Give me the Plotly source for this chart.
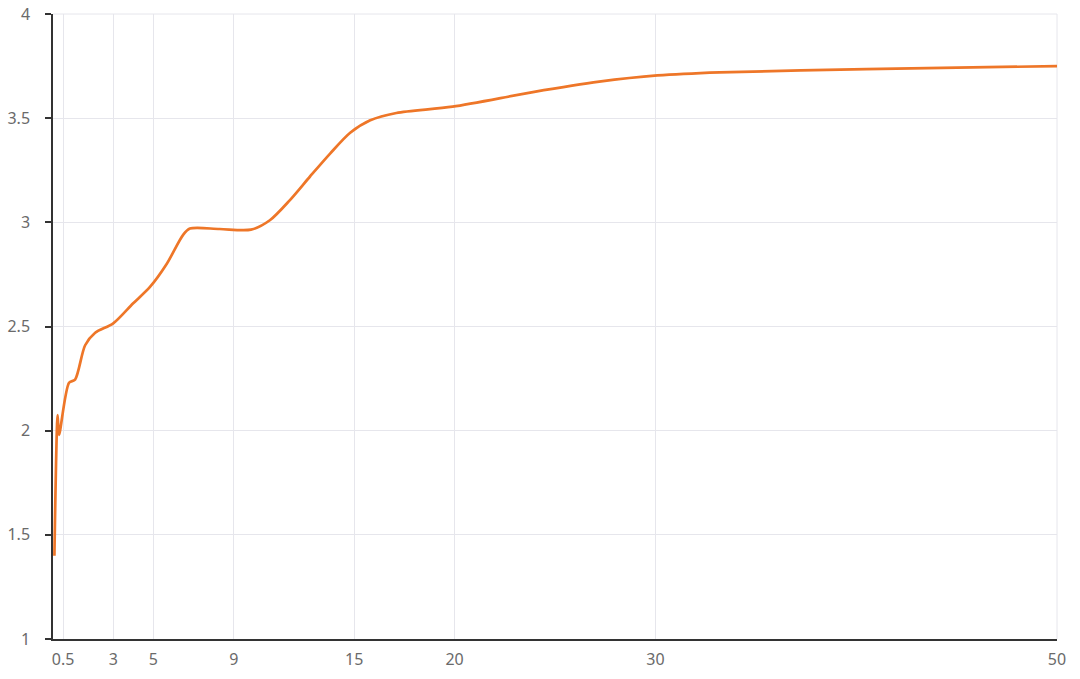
import plotly.graph_objects as go

x_vals = [0.07, 0.23, 0.3, 0.8, 1.1, 1.6, 2.1, 3.0, 3.98, 4.83, 5.66, 6.48, 6.82,
          8.3, 9.86, 10.8, 11.8, 12.8, 13.8, 14.8, 15.8, 17.1, 19.9, 23.9, 27.2, 30.1,
          33.2, 40.5, 50.0]
y_vals = [1.40, 2.075, 1.98, 2.23, 2.245, 2.41, 2.47, 2.515, 2.61, 2.69, 2.80, 2.94, 2.97,
          2.968, 2.965, 3.01, 3.107, 3.22, 3.33, 3.43, 3.49, 3.525, 3.555, 3.625, 3.675, 3.705,
          3.72, 3.735, 3.75]
x_ticks = [0.5, 3, 5, 9, 15, 20, 30, 50]
y_ticks = [1, 1.5, 2, 2.5, 3, 3.5, 4]

fig = go.Figure()
fig.add_trace(go.Scatter(
    x=x_vals, y=y_vals, mode="lines",
    line=dict(color="#ee7628", width=2.7, shape="spline", smoothing=0.8),
    hoverinfo="x+y", showlegend=False,
))

grid_col = "#e6e6ec"
# top and right border gridlines (at y=4 and x=50)
fig.add_shape(type="line", xref="paper", yref="paper", x0=0, x1=1, y0=1, y1=1,
              line=dict(color=grid_col, width=1), layer="below")
fig.add_shape(type="line", xref="paper", yref="paper", x0=1, x1=1, y0=0, y1=1,
              line=dict(color=grid_col, width=1), layer="below")

font = dict(family="Noto Sans, Open Sans, sans-serif", size=16, color="#6a6a6a")
fig.update_layout(
    width=1080, height=679,
    margin=dict(l=53, r=23, t=14, b=40, autoexpand=False),
    paper_bgcolor="white", plot_bgcolor="white",
    font=font,
    xaxis=dict(
        range=[0, 50], tickmode="array", tickvals=x_ticks,
        ticktext=[str(v) for v in x_ticks],
        showgrid=True, gridcolor=grid_col, gridwidth=1,
        showline=True, linecolor="#333333", linewidth=1.5,
        ticks="", zeroline=False, tickfont=font, automargin=False,
        ticklabelstandoff=5, ticklabeloverflow="allow",
    ),
    yaxis=dict(
        range=[1, 4], tickmode="array", tickvals=y_ticks,
        ticktext=[f"{v:g}" for v in y_ticks],
        showgrid=True, gridcolor=grid_col, gridwidth=1,
        showline=True, linecolor="#333333", linewidth=1.5,
        ticks="outside", ticklen=6, tickcolor="#333333", tickwidth=1.5,
        zeroline=False, tickfont=font, ticklabelstandoff=12, automargin=False,
        ticklabeloverflow="allow",
    ),
)
fig.write_html("out.html", config={"displayModeBar": False},
               post_script="document.body.style.margin='0';")
